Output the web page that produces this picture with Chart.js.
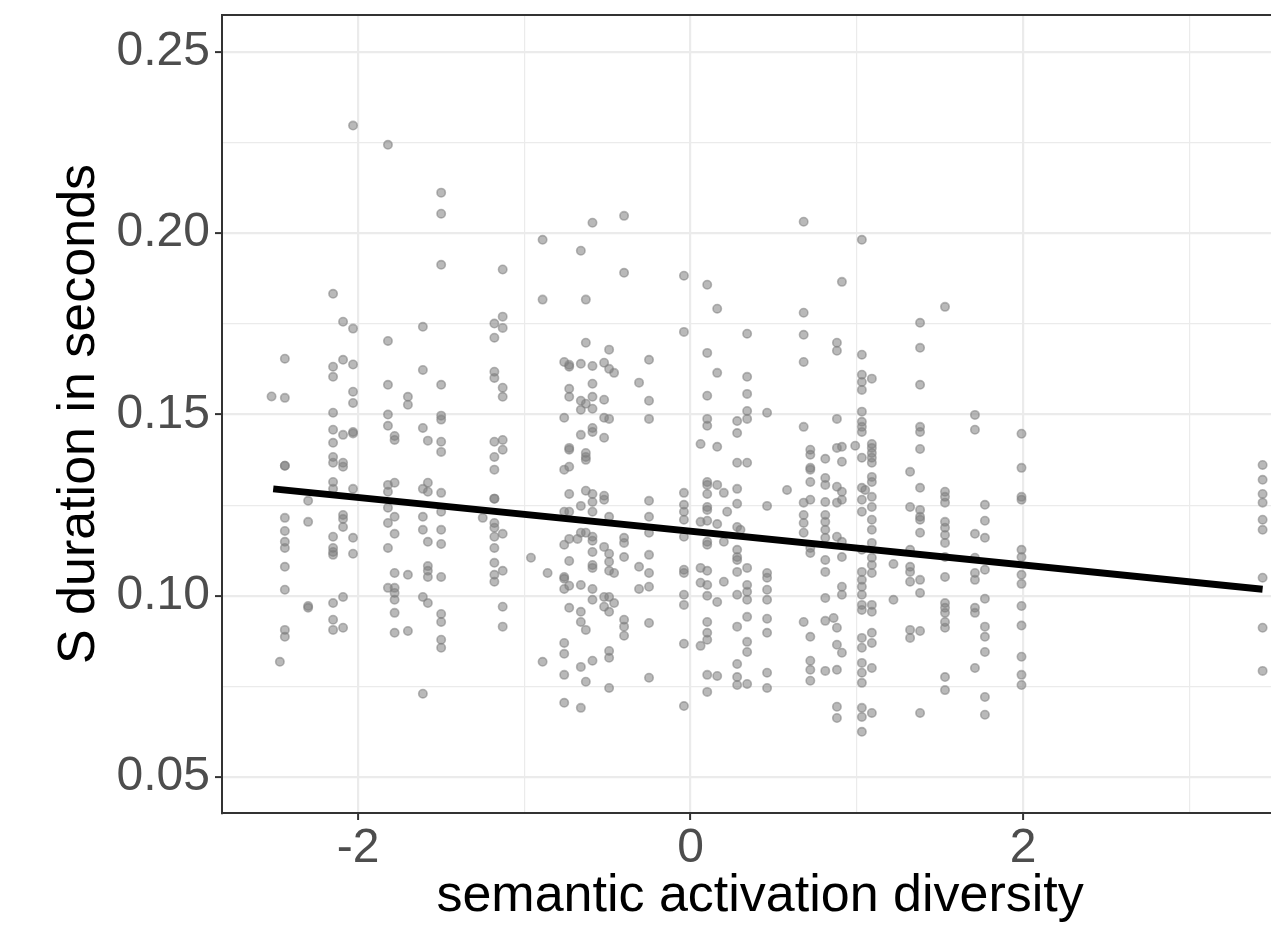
<!DOCTYPE html>
<html>
<head>
<meta charset="utf-8">
<script src="https://cdn.jsdelivr.net/npm/chart.js@4/dist/chart.umd.min.js"></script>
<style>
html, body { margin: 0; padding: 0; overflow: hidden; background: #fff; width: 1271px; height: 928px; }
canvas { display: block; }
</style>
</head>
<body>
<canvas id="c" width="1304" height="928" style="width:1304px;height:928px"></canvas>
<script>
// x position of each jittered column (semantic activation diversity)
const columnX = [
  -2.52, -2.47, -2.44, -2.30, -2.15, -2.09, -2.03, -1.82, -1.78, -1.70,
  -1.61, -1.58, -1.50, -1.25, -1.18, -1.13, -0.96, -0.89, -0.86, -0.76,
  -0.73, -0.68, -0.66, -0.63, -0.59, -0.52, -0.49, -0.46, -0.40, -0.31,
  -0.25, -0.04, 0.06, 0.10, 0.16, 0.20, 0.22, 0.28, 0.30, 0.34,
  0.46, 0.58, 0.68, 0.72, 0.81, 0.86, 0.88, 0.91, 0.99, 1.03,
  1.05, 1.09, 1.22, 1.32, 1.38, 1.53, 1.71, 1.77, 1.99, 3.44
];
// S duration in seconds for each column
const columnY = [
  [0.1550],
  [0.0818],
  [0.1654, 0.1546, 0.1359, 0.1359, 0.1215, 0.1179, 0.1149, 0.1132, 0.1080, 0.1017, 0.0906, 0.0887],
  [0.1262, 0.1204, 0.0972, 0.0967],
  [0.1833, 0.1632, 0.1604, 0.1505, 0.1458, 0.1422, 0.1383, 0.1367, 0.1314, 0.1295, 0.1163, 0.1132, 0.1121, 0.1113, 0.0980, 0.0934, 0.0906],
  [0.1756, 0.1651, 0.1444, 0.1367, 0.1356, 0.1223, 0.1212, 0.1190, 0.0997, 0.0912],
  [0.2297, 0.1737, 0.1638, 0.1563, 0.1532, 0.1452, 0.1448, 0.1295, 0.1160, 0.1116],
  [0.2244, 0.1703, 0.1582, 0.1500, 0.1469, 0.1306, 0.1287, 0.1243, 0.1201, 0.1132, 0.1022],
  [0.1441, 0.1430, 0.1312, 0.1218, 0.1171, 0.1063, 0.1022, 0.1008, 0.0989, 0.0953, 0.0898],
  [0.1549, 0.1527, 0.1058, 0.0903],
  [0.1742, 0.1623, 0.1463, 0.1295, 0.1218, 0.1182, 0.0997, 0.0730],
  [0.1428, 0.1312, 0.1287, 0.1149, 0.1082, 0.1069, 0.1052, 0.0980],
  [0.2112, 0.2054, 0.1913, 0.1582, 0.1497, 0.1486, 0.1425, 0.1397, 0.1284, 0.1232, 0.1182, 0.1143, 0.1052, 0.0950, 0.0928, 0.0879, 0.0857],
  [0.1215],
  [0.1751, 0.1712, 0.1618, 0.1601, 0.1425, 0.1383, 0.1348, 0.1268, 0.1268, 0.1201, 0.1188, 0.1163, 0.1132, 0.1091, 0.1058, 0.1039],
  [0.1900, 0.1770, 0.1739, 0.1574, 0.1549, 0.1430, 0.1403, 0.1171, 0.1069, 0.0970, 0.0915],
  [0.1105],
  [0.1982, 0.1817, 0.0818],
  [0.1063],
  [0.1645, 0.1491, 0.1348, 0.1232, 0.1141, 0.1052, 0.1047, 0.1019, 0.0870, 0.0840, 0.0782, 0.0705],
  [0.1637, 0.1632, 0.1571, 0.1549, 0.1408, 0.1403, 0.1356, 0.1281, 0.1232, 0.1157, 0.1096, 0.1028, 0.0967],
  [0.1157],
  [0.1952, 0.1640, 0.1538, 0.1513, 0.1444, 0.1248, 0.1174, 0.1030, 0.0956, 0.0928, 0.0804, 0.0691],
  [0.1817, 0.1698, 0.1530, 0.1394, 0.1383, 0.1375, 0.1290, 0.1174, 0.0906, 0.0763],
  [0.2029, 0.1634, 0.1585, 0.1549, 0.1516, 0.1463, 0.1452, 0.1281, 0.1259, 0.1232, 0.1163, 0.1152, 0.1121, 0.1085, 0.1077, 0.1019, 0.0989, 0.0821],
  [0.1643, 0.1541, 0.1491, 0.1436, 0.1276, 0.1265, 0.1135, 0.0997, 0.0970],
  [0.1679, 0.1626, 0.1488, 0.1218, 0.1116, 0.1094, 0.1069, 0.0997, 0.0956, 0.0848, 0.0829, 0.0746],
  [0.1615, 0.1063, 0.0980],
  [0.2048, 0.1891, 0.1160, 0.1146, 0.1107, 0.0934, 0.0915, 0.0890],
  [0.1588, 0.1080, 0.1019],
  [0.1651, 0.1538, 0.1488, 0.1262, 0.1218, 0.1174, 0.1113, 0.1063, 0.1025, 0.0925, 0.0774],
  [0.1883, 0.1728, 0.1284, 0.1251, 0.1232, 0.1210, 0.1163, 0.1072, 0.1063, 0.1003, 0.0975, 0.0868, 0.0696],
  [0.1419, 0.1204, 0.1077, 0.1036, 0.0862],
  [0.1858, 0.1670, 0.1552, 0.1488, 0.1469, 0.1314, 0.1306, 0.1281, 0.1245, 0.1237, 0.1207, 0.1149, 0.1141, 0.1069, 0.1030, 0.1000, 0.0928, 0.0898, 0.0879, 0.0782, 0.0735],
  [0.1792, 0.1615, 0.1411, 0.1306, 0.1198, 0.0983, 0.0779],
  [0.1284, 0.1149, 0.1039],
  [0.1232],
  [0.1482, 0.1449, 0.1367, 0.1295, 0.1254, 0.1190, 0.1127, 0.1107, 0.1099, 0.1066, 0.1003, 0.0915, 0.0812, 0.0776, 0.0754],
  [0.1182],
  [0.1723, 0.1604, 0.1557, 0.1510, 0.1488, 0.1367, 0.1077, 0.1030, 0.1011, 0.0989, 0.0942, 0.0873, 0.0845, 0.0757],
  [0.1505, 0.1248, 0.1063, 0.1050, 0.1017, 0.0989, 0.0937, 0.0898, 0.0788, 0.0746],
  [0.1292],
  [0.2032, 0.1781, 0.1720, 0.1645, 0.1466, 0.1257, 0.1223, 0.1201, 0.1174, 0.0928],
  [0.1403, 0.1389, 0.1353, 0.1348, 0.1314, 0.1265, 0.1132, 0.1118, 0.0887, 0.0821, 0.0796, 0.0766],
  [0.1378, 0.1325, 0.1306, 0.1259, 0.1223, 0.1204, 0.1182, 0.1160, 0.1099, 0.1066, 0.0994, 0.0931, 0.0793],
  [0.0939],
  [0.1698, 0.1676, 0.1488, 0.1408, 0.1301, 0.1257, 0.1163, 0.0912, 0.0865, 0.0796, 0.0694, 0.0663],
  [0.1866, 0.1411, 0.1370, 0.1287, 0.1265, 0.1149, 0.1107, 0.1025, 0.1003, 0.0843],
  [0.1414],
  [0.1982, 0.1665, 0.1610, 0.1590, 0.1568, 0.1508, 0.1480, 0.1466, 0.1452, 0.1381, 0.1298, 0.1265, 0.1232, 0.1127, 0.1066, 0.1044, 0.1025, 0.1003, 0.0975, 0.0961, 0.0884, 0.0857, 0.0815, 0.0788, 0.0760, 0.0691, 0.0666, 0.0625],
  [0.1292],
  [0.1599, 0.1419, 0.1408, 0.1394, 0.1381, 0.1367, 0.1328, 0.1314, 0.1273, 0.1245, 0.1210, 0.1182, 0.1146, 0.1105, 0.1085, 0.1063, 0.0975, 0.0956, 0.0898, 0.0870, 0.0801, 0.0677],
  [0.1088, 0.0989],
  [0.1342, 0.1245, 0.1127, 0.1080, 0.1066, 0.1039, 0.0906, 0.0884],
  [0.1753, 0.1684, 0.1582, 0.1466, 0.1452, 0.1405, 0.1298, 0.1237, 0.1218, 0.1210, 0.1174, 0.1044, 0.1008, 0.0903, 0.0677],
  [0.1797, 0.1287, 0.1273, 0.1257, 0.1204, 0.1188, 0.1168, 0.1146, 0.1107, 0.1052, 0.0980, 0.0967, 0.0953, 0.0928, 0.0912, 0.0776, 0.0740],
  [0.1499, 0.1458, 0.1171, 0.1105, 0.1063, 0.1044, 0.0967, 0.0953, 0.0801],
  [0.1251, 0.1207, 0.1160, 0.1072, 0.0992, 0.0915, 0.0887, 0.0845, 0.0721, 0.0672],
  [0.1447, 0.1353, 0.1273, 0.1265, 0.1127, 0.1107, 0.1058, 0.1033, 0.0972, 0.0918, 0.0832, 0.0782, 0.0754],
  [0.1361, 0.1320, 0.1281, 0.1257, 0.1210, 0.1182, 0.1050, 0.0912, 0.0793]
];
// fitted linear trend (end points over the data range)
const trendX = [-2.51, 3.44];
const trendY = [0.1295, 0.1018];

const xTickValues = [-2, -1, 0, 1, 2, 3];
const xTickLabels = ['-2', '', '0', '', '2', ''];
const yTickValues = [0.05, 0.075, 0.10, 0.125, 0.15, 0.175, 0.20, 0.225, 0.25];
const yTickLabels = ['0.05', '', '0.10', '', '0.15', '', '0.20', '', '0.25'];

const points = [];
columnX.forEach((x, i) => columnY[i].forEach(y => points.push({ x: x, y: y })));
const trend = trendX.map((x, i) => ({ x: x, y: trendY[i] }));

const FONT = '"Liberation Sans", Arial, Helvetica, sans-serif';

const panelBorder = {
  id: 'panelBorder',
  afterDraw(chart) {
    const { ctx, chartArea } = chart;
    ctx.save();
    ctx.strokeStyle = '#333333';
    ctx.lineWidth = 2;
    ctx.strokeRect(chartArea.left, chartArea.top, chartArea.right - chartArea.left, chartArea.bottom - chartArea.top);
    ctx.restore();
  }
};

new Chart(document.getElementById('c'), {
  type: 'scatter',
  data: {
    datasets: [
      {
        type: 'line',
        data: trend,
        borderColor: '#000000',
        borderWidth: 7,
        pointRadius: 0,
        fill: false,
        borderCapStyle: 'butt',
        order: 0
      },
      {
        data: points,
        backgroundColor: 'rgba(128,128,128,0.55)',
        borderColor: 'rgba(125,125,125,0.55)',
        borderWidth: 1.6,
        pointRadius: 4.2,
        order: 1
      }
    ]
  },
  options: {
    responsive: false,
    animation: false,
    devicePixelRatio: 1,
    layout: { padding: { top: 15, left: 0, right: 2, bottom: 0 } },
    plugins: { legend: { display: false }, tooltip: { enabled: false } },
    scales: {
      x: {
        type: 'linear',
        min: -2.818,
        max: 3.654,
        afterBuildTicks: s => { s.ticks = xTickValues.map(v => ({ value: v })); },
        afterFit: s => { s.height = 115; s.paddingLeft = 0; s.paddingRight = 0; },
        ticks: {
          autoSkip: false,
          maxRotation: 0,
          font: { size: 48, family: FONT },
          color: '#4d4d4d',
          padding: 0,
          callback: (v, i) => xTickLabels[i]
        },
        grid: {
          color: '#ebebeb',
          lineWidth: c => (xTickLabels[c.index] ? 2.2 : 1.2),
          tickColor: c => (xTickLabels[c.index] ? '#333333' : 'rgba(0,0,0,0)'),
          tickLength: 7,
          tickWidth: 2
        },
        border: { color: '#333333', width: 2 },
        title: {
          display: true,
          text: 'semantic activation diversity',
          font: { size: 52, family: FONT },
          color: '#000000',
          padding: { top: 0, bottom: 0 }
        }
      },
      y: {
        type: 'linear',
        min: 0.0401,
        max: 0.2602,
        afterBuildTicks: s => { s.ticks = yTickValues.map(v => ({ value: v })); },
        afterFit: s => { s.width = 222; s.paddingTop = 0; s.paddingBottom = 0; },
        ticks: {
          autoSkip: false,
          font: { size: 48, family: FONT },
          color: '#4d4d4d',
          padding: 5,
          callback: (v, i) => yTickLabels[i]
        },
        grid: {
          color: '#ebebeb',
          lineWidth: c => (yTickLabels[c.index] ? 2.2 : 1.2),
          tickColor: c => (yTickLabels[c.index] ? '#333333' : 'rgba(0,0,0,0)'),
          tickLength: 7,
          tickWidth: 2
        },
        border: { color: '#333333', width: 2 },
        title: {
          display: true,
          text: 'S duration in seconds',
          font: { size: 52, family: FONT },
          color: '#000000',
          padding: { top: 48, bottom: 0 }
        }
      }
    }
  },
  plugins: [panelBorder]
});
</script>
</body>
</html>
